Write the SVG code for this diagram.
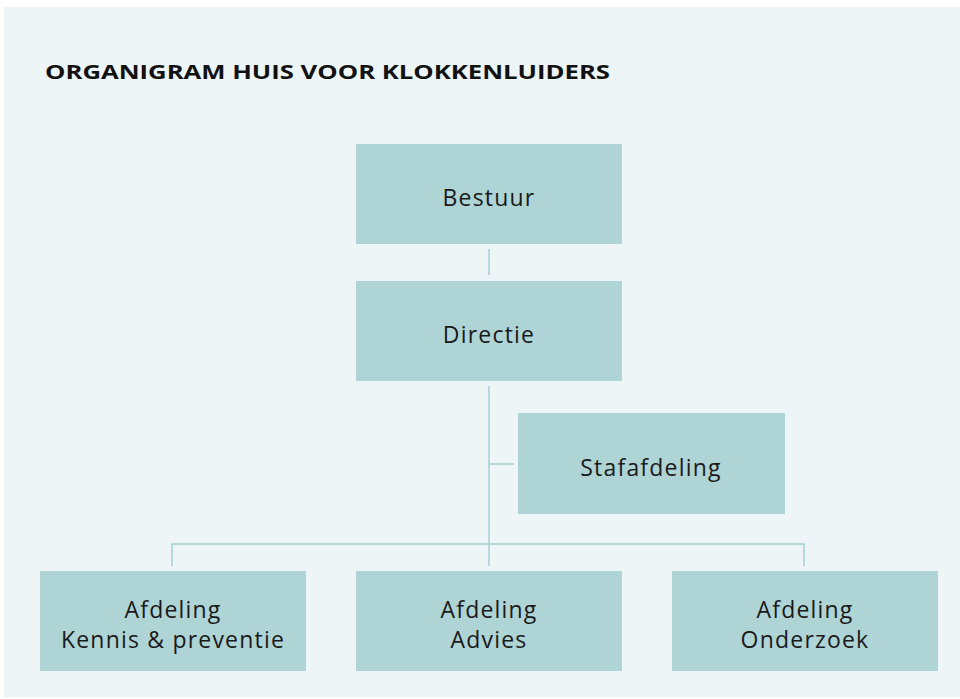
<svg xmlns="http://www.w3.org/2000/svg" width="960" height="699" viewBox="0 0 960 699">
<style>
.box{fill:#AED4D6}
.lbl{font-family:"Open Sans","Liberation Sans",sans-serif;font-size:23px;fill:#1a1a1a;text-anchor:middle;letter-spacing:1.2px}
.ttl{font-family:"Open Sans","Liberation Sans",sans-serif;font-size:20px;font-weight:bold;fill:#111}
.ln{stroke:#A6CFD2;stroke-width:1.5;fill:none}
</style>
<rect x="0" y="0" width="960" height="699" fill="#ffffff"/>
<rect x="4" y="7" width="956" height="690" fill="#EDF5F7"/>
<text class="ttl" x="45" y="79" textLength="565" lengthAdjust="spacingAndGlyphs">ORGANIGRAM HUIS VOOR KLOKKENLUIDERS</text>
<g id="connectors">
<line class="ln" x1="489" y1="249" x2="489" y2="275"/>
<line class="ln" x1="489" y1="386" x2="489" y2="566"/>
<line class="ln" x1="489" y1="464" x2="514" y2="464"/>
<polyline class="ln" points="172,566 172,544 804,544 804,566"/>
</g>
<g id="bestuur"><rect class="box" x="356" y="144" width="266" height="100"/><text class="lbl" x="489" y="206">Bestuur</text></g>
<g id="directie"><rect class="box" x="356" y="281" width="266" height="100"/><text class="lbl" x="489" y="343">Directie</text></g>
<g id="stafafdeling"><rect class="box" x="518" y="413" width="267" height="101"/><text class="lbl" x="651" y="476">Stafafdeling</text></g>
<g id="kennis"><rect class="box" x="40" y="571" width="266" height="100"/><text class="lbl" x="173" y="618">Afdeling</text><text class="lbl" x="173" y="648">Kennis &amp; preventie</text></g>
<g id="advies"><rect class="box" x="356" y="571" width="266" height="100"/><text class="lbl" x="489" y="618">Afdeling</text><text class="lbl" x="489" y="648">Advies</text></g>
<g id="onderzoek"><rect class="box" x="672" y="571" width="266" height="100"/><text class="lbl" x="805" y="618">Afdeling</text><text class="lbl" x="805" y="648">Onderzoek</text></g>
</svg>
